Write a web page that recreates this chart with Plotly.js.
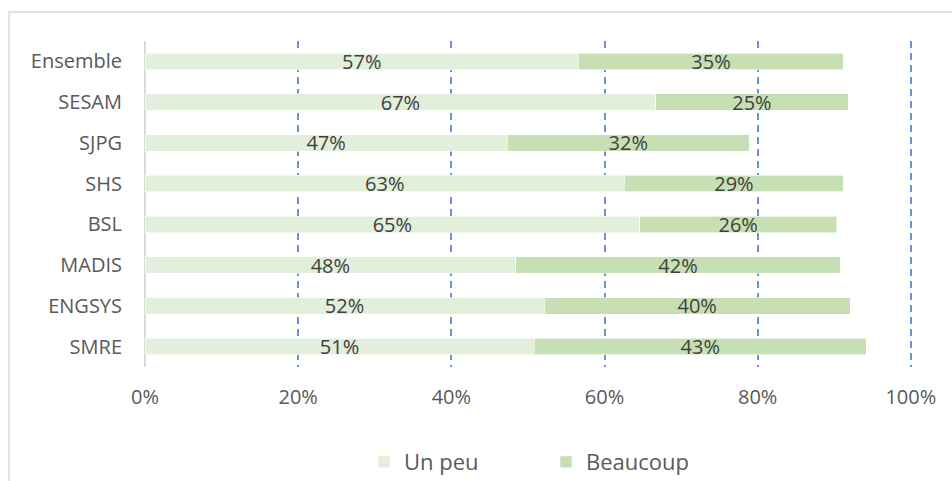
<!DOCTYPE html>
<html>
<head>
<meta charset="utf-8">
<script src="https://cdn.plot.ly/plotly-3.0.1.min.js"></script>
<style>html,body{margin:0;padding:0;background:#fff;}#chart{width:952px;height:481px;}</style>
</head>
<body>
<div id="chart"></div>
<script>
// Categories from top to bottom
const categories = ["Ensemble", "SESAM", "SJPG", "SHS", "BSL", "MADIS", "ENGSYS", "SMRE"];
// Share of respondents (%)
const unPeu    = [56.6, 66.7, 47.3, 62.6, 64.6, 48.4, 52.1, 50.8];
const beaucoup = [34.6, 25.1, 31.6, 28.6, 25.7, 42.4, 40.0, 43.4];
const seriesNames = ["Un peu", "Beaucoup"];
const xTickVals = [0, 20, 40, 60, 80, 100];

const FONT = "Open Sans, Noto Sans, sans-serif";

function barTrace(name, values, color) {
  return {
    type: "bar",
    orientation: "h",
    name: name,
    y: categories,
    x: values,
    marker: {color: color, line: {color: "rgba(255,255,255,0.6)", width: 1}},
    texttemplate: "%{x:.0f}%",
    textposition: "inside",
    insidetextanchor: "middle",
    textangle: 0,
    constraintext: "none",
    textfont: {family: FONT, size: 20, color: "#404040"},
    hoverinfo: "skip"
  };
}

const data = [
  barTrace(seriesNames[0], unPeu, "#E2EFDA"),
  barTrace(seriesNames[1], beaucoup, "#C6E0B4")
];

const layout = {
  width: 952,
  height: 481,
  margin: {l: 145, r: 40, t: 41, b: 114},
  paper_bgcolor: "#ffffff",
  plot_bgcolor: "#ffffff",
  barmode: "stack",
  bargap: 0.6,
  font: {family: FONT, size: 20, color: "#595959"},
  xaxis: {
    range: [0, 100.15],
    tickvals: xTickVals,
    ticktext: xTickVals.map(v => v + "%"),
    showgrid: true,
    gridcolor: "#6F92D6",
    gridwidth: 2,
    griddash: "7px,5px",
    zeroline: true,
    zerolinecolor: "#D9D9D9",
    zerolinewidth: 2,
    showline: false,
    ticks: "",
    ticklabelstandoff: 16,
    tickfont: {family: FONT, size: 20, color: "#595959"},
    fixedrange: true
  },
  yaxis: {
    type: "category",
    categoryorder: "array",
    categoryarray: categories,
    autorange: "reversed",
    showgrid: false,
    zeroline: false,
    showline: false,
    ticks: "",
    ticklabelstandoff: 22,
    tickfont: {family: FONT, size: 20, color: "#595959"},
    fixedrange: true
  },
  showlegend: true,
  legend: {
    orientation: "h",
    xref: "container",
    yref: "container",
    x: 364 / 952,
    xanchor: "left",
    y: 1 - 462 / 481,
    yanchor: "middle",
    entrywidth: 137,
    entrywidthmode: "pixels",
    font: {family: FONT, size: 22, color: "#595959"},
    bgcolor: "rgba(0,0,0,0)",
    traceorder: "normal"
  },
  shapes: [{
    type: "rect",
    xref: "paper",
    yref: "paper",
    x0: (9 - 145) / 767,
    x1: 2,
    y0: -2,
    y1: 1 + (41 - 12) / 326,
    line: {color: "#D9D9D9", width: 1.5},
    fillcolor: "rgba(0,0,0,0)",
    layer: "below"
  }]
};

Plotly.newPlot("chart", data, layout, {displayModeBar: false, staticPlot: true});
</script>
</body>
</html>
